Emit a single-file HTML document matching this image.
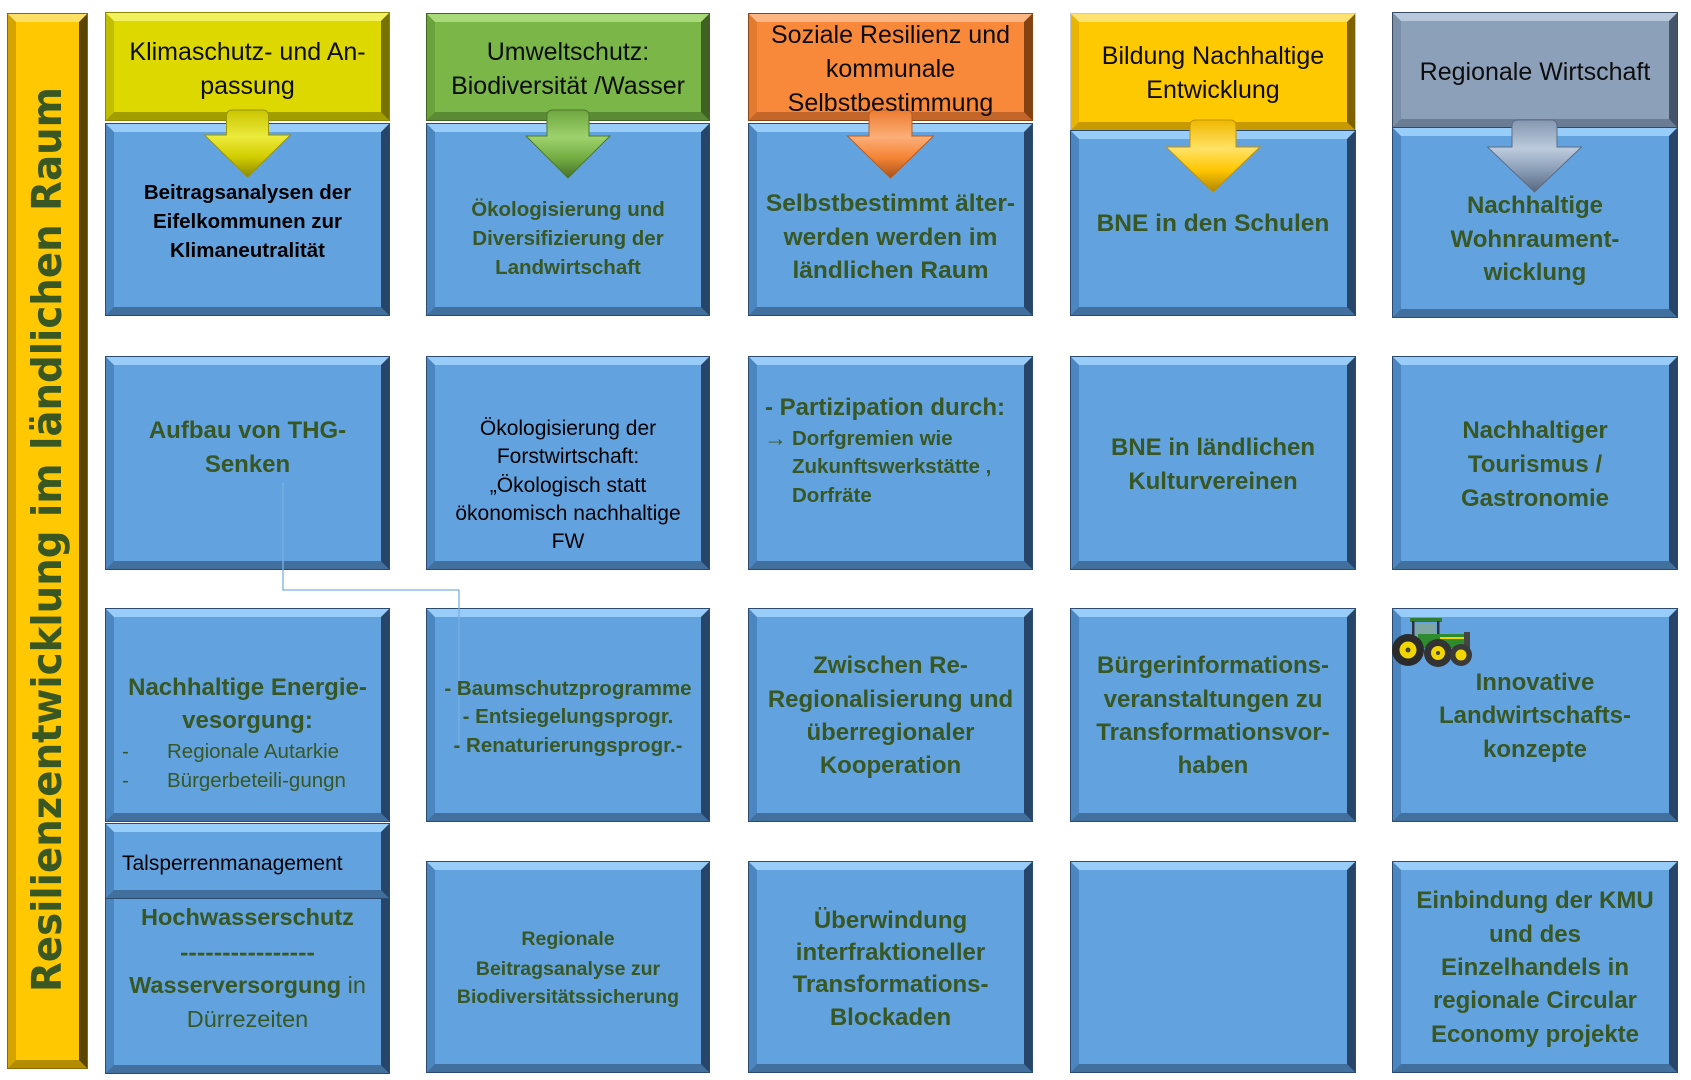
<!DOCTYPE html>
<html lang="de">
<head>
<meta charset="utf-8">
<style>
  html,body{margin:0;padding:0;background:#fff;}
  body{width:1691px;height:1080px;position:relative;overflow:hidden;}
  .b{position:absolute;box-sizing:border-box;border:8px solid;box-shadow:0 0 0 1px #2b4b70;}
  .blue{background:#62a3df;border-color:#97cdf8 #274469 #41709e #4b86c1;}
  .h1{background:#dcd800;border-color:#f2f05c #767100 #a29e00 #c2be00;box-shadow:0 0 0 1px #8a8600;}
  .h2{background:#7ab648;border-color:#a8da7a #3f6123 #5a8a33 #6aa23c;box-shadow:0 0 0 1px #3f6424;}
  .h3{background:#f8883a;border-color:#fcb684 #844213 #c4652a #e27a30;box-shadow:0 0 0 1px #8a4515;}
  .h4{background:#ffc900;border-color:#ffe270 #7f6200 #c99a00 #e9b500;box-shadow:0 0 0 1px #c8c8c8;}
  .h5{background:#8da0b9;border-color:#b8c8dc #45546b #6b7d95 #7b8ea7;box-shadow:0 0 0 1px #3a4a62;}
  .bar{background:#ffc800;border-color:#ffe066 #5a4500 #b38c00 #d6a400;box-shadow:0 0 0 1px #8a6a00;}
</style>
</head>
<body>
<!-- left title bar -->
<div class="b bar" style="left:8px;top:14px;width:79px;height:1054px;"></div>

<!-- headers -->
<div class="b h1" style="left:106px;top:13px;width:283px;height:107px;"></div>
<div class="b h2" style="left:427px;top:14px;width:282px;height:106px;"></div>
<div class="b h3" style="left:749px;top:14px;width:283px;height:106px;"></div>
<div class="b h4" style="left:1071px;top:14px;width:284px;height:116px;"></div>
<div class="b h5" style="left:1393px;top:13px;width:284px;height:114px;"></div>

<!-- row 1 -->
<div class="b blue" style="left:106px;top:124px;width:283px;height:191px;"></div>
<div class="b blue" style="left:427px;top:124px;width:282px;height:191px;"></div>
<div class="b blue" style="left:749px;top:124px;width:283px;height:191px;"></div>
<div class="b blue" style="left:1071px;top:131px;width:284px;height:184px;"></div>
<div class="b blue" style="left:1393px;top:128px;width:284px;height:189px;"></div>

<!-- row 2 -->
<div class="b blue" style="left:106px;top:357px;width:283px;height:212px;"></div>
<div class="b blue" style="left:427px;top:357px;width:282px;height:212px;"></div>
<div class="b blue" style="left:749px;top:357px;width:283px;height:212px;"></div>
<div class="b blue" style="left:1071px;top:357px;width:284px;height:212px;"></div>
<div class="b blue" style="left:1393px;top:357px;width:284px;height:212px;"></div>

<!-- row 3 -->
<div class="b blue" style="left:106px;top:609px;width:283px;height:212px;"></div>
<div class="b blue" style="left:427px;top:609px;width:282px;height:212px;"></div>
<div class="b blue" style="left:749px;top:609px;width:283px;height:212px;"></div>
<div class="b blue" style="left:1071px;top:609px;width:284px;height:212px;"></div>
<div class="b blue" style="left:1393px;top:609px;width:284px;height:212px;"></div>

<!-- row 4 -->
<div class="b blue" style="left:106px;top:824px;width:283px;height:249px;"></div>
<div class="b blue" style="left:106px;top:824px;width:283px;height:74px;"></div>
<div class="b blue" style="left:427px;top:862px;width:282px;height:210px;"></div>
<div class="b blue" style="left:749px;top:862px;width:283px;height:210px;"></div>
<div class="b blue" style="left:1071px;top:862px;width:284px;height:210px;"></div>
<div class="b blue" style="left:1393px;top:862px;width:284px;height:210px;"></div>

<svg width="1691" height="1080" viewBox="0 0 1691 1080" style="position:absolute;left:0;top:0;">
  <defs>
    <linearGradient id="a1" x1="0" y1="0" x2="0" y2="1">
      <stop offset="0" stop-color="#c9c500"/><stop offset="0.4" stop-color="#ecea3c"/><stop offset="0.7" stop-color="#d2ce00"/><stop offset="1" stop-color="#8c8800"/>
    </linearGradient>
    <linearGradient id="a2" x1="0" y1="0" x2="0" y2="1">
      <stop offset="0" stop-color="#6ea63f"/><stop offset="0.4" stop-color="#9ed26c"/><stop offset="0.7" stop-color="#74ae43"/><stop offset="1" stop-color="#46702a"/>
    </linearGradient>
    <linearGradient id="a3" x1="0" y1="0" x2="0" y2="1">
      <stop offset="0" stop-color="#ec7c30"/><stop offset="0.4" stop-color="#fcae78"/><stop offset="0.7" stop-color="#f48434"/><stop offset="1" stop-color="#a8531d"/>
    </linearGradient>
    <linearGradient id="a4" x1="0" y1="0" x2="0" y2="1">
      <stop offset="0" stop-color="#f0b800"/><stop offset="0.4" stop-color="#ffe266"/><stop offset="0.7" stop-color="#ffc600"/><stop offset="1" stop-color="#b08600"/>
    </linearGradient>
    <linearGradient id="a5" x1="0" y1="0" x2="0" y2="1">
      <stop offset="0" stop-color="#8597b0"/><stop offset="0.4" stop-color="#bccbdd"/><stop offset="0.7" stop-color="#8a9db6"/><stop offset="1" stop-color="#56667e"/>
    </linearGradient>
  </defs>

  <!-- arrows -->
  <path d="M226.5,116 Q226.5,110 232.5,110 L262.5,110 Q268.5,110 268.5,116 L268.5,135 L290.5,135 L247.5,177 L204.5,135 L226.5,135 Z" fill="url(#a1)" stroke="#9a9600" stroke-width="1"/>
  <path d="M547,116 Q547,110 553,110 L583,110 Q589,110 589,116 L589,136 L610,136 L568,178 L526,136 L547,136 Z" fill="url(#a2)" stroke="#4d7a2e" stroke-width="1"/>
  <path d="M869,116 Q869,110 875,110 L906,110 Q912,110 912,116 L912,136 L933.5,136 L890.5,178 L847.5,136 L869,136 Z" fill="url(#a3)" stroke="#b85c20" stroke-width="1"/>
  <path d="M1190,126 Q1190,120 1196,120 L1230,120 Q1236,120 1236,126 L1236,147 L1260,147 L1213,192 L1166,147 L1190,147 Z" fill="url(#a4)" stroke="#c09200" stroke-width="1"/>
  <path d="M1512,126 Q1512,120 1518,120 L1551,120 Q1557,120 1557,126 L1557,147 L1581.5,147 L1534.5,192 L1487.5,147 L1512,147 Z" fill="url(#a5)" stroke="#5d6d85" stroke-width="1"/>

  <!-- connector -->
  <polyline points="283,483 283,590 459,590 459,745" fill="none" stroke="#7ab0e2" stroke-width="1.3"/>

  <!-- tractor -->
  <g>
    <rect x="1410" y="618" width="32" height="4" fill="#2f7d2f"/>
    <rect x="1412" y="621" width="2.5" height="22" fill="#333"/>
    <rect x="1437" y="621" width="2.5" height="22" fill="#333"/>
    <rect x="1415" y="623" width="21" height="15" fill="#8aa88a" opacity="0.7"/>
    <rect x="1418" y="634" width="50" height="14" fill="#2e8b2e"/>
    <rect x="1440" y="637" width="24" height="2" fill="#e8d800"/>
    <rect x="1464" y="632" width="6" height="18" fill="#444"/>
    <circle cx="1408" cy="650" r="16" fill="#2b2b2b"/>
    <circle cx="1408" cy="650" r="8.5" fill="#f2d600"/>
    <circle cx="1408" cy="650" r="2.5" fill="#444"/>
    <circle cx="1438" cy="653" r="14" fill="#333"/>
    <circle cx="1438" cy="653" r="7" fill="#f2d600"/>
    <circle cx="1438" cy="653" r="2" fill="#444"/>
    <circle cx="1461" cy="655" r="11" fill="#3a3a3a"/>
    <circle cx="1461" cy="655" r="5.5" fill="#f2d600"/>
  </g>

  <!-- vertical title -->
  <text transform="translate(61 992) rotate(-90)" font-family="'DejaVu Sans', 'Liberation Sans', sans-serif" font-weight="bold" font-size="41" fill="#385723" textLength="905" lengthAdjust="spacingAndGlyphs">Resilienzentwicklung im ländlichen Raum</text>

  <!-- header texts -->
  <g font-family="'Liberation Sans', sans-serif" font-size="25" fill="#0d0d0d" text-anchor="middle">
    <text x="247.5" y="60">Klimaschutz- und An-</text>
    <text x="247.5" y="94">passung</text>
    <text x="568" y="60">Umweltschutz:</text>
    <text x="568" y="94">Biodiversität /Wasser</text>
    <text x="890.5" y="43">Soziale Resilienz und</text>
    <text x="890.5" y="77">kommunale</text>
    <text x="890.5" y="111">Selbstbestimmung</text>
    <text x="1213" y="64">Bildung Nachhaltige</text>
    <text x="1213" y="98">Entwicklung</text>
    <text x="1535" y="80">Regionale Wirtschaft</text>
  </g>

  <!-- row 1 -->
  <g font-family="'Liberation Sans', sans-serif" font-weight="bold" text-anchor="middle">
    <g font-size="20.5" fill="#000">
      <text x="247.5" y="199">Beitragsanalysen der</text>
      <text x="247.5" y="228">Eifelkommunen zur</text>
      <text x="247.5" y="257">Klimaneutralität</text>
    </g>
    <g font-size="20.5" fill="#385723">
      <text x="568" y="216">Ökologisierung und</text>
      <text x="568" y="245">Diversifizierung der</text>
      <text x="568" y="274">Landwirtschaft</text>
    </g>
    <g font-size="24.5" fill="#385723">
      <text x="890.5" y="211">Selbstbestimmt älter-</text>
      <text x="890.5" y="245">werden werden im</text>
      <text x="890.5" y="278">ländlichen Raum</text>
      <text x="1213" y="231">BNE in den Schulen</text>
    </g>
    <g font-size="24" fill="#385723">
      <text x="1535" y="213">Nachhaltige</text>
      <text x="1535" y="247">Wohnraument-</text>
      <text x="1535" y="280">wicklung</text>
    </g>
  </g>

  <!-- row 2 -->
  <g font-family="'Liberation Sans', sans-serif">
    <g font-weight="bold" font-size="24" fill="#385723" text-anchor="middle">
      <text x="247.5" y="438">Aufbau von THG-</text>
      <text x="247.5" y="472">Senken</text>
      <text x="1213" y="455">BNE in ländlichen</text>
      <text x="1213" y="489">Kulturvereinen</text>
      <text x="1535" y="438">Nachhaltiger</text>
      <text x="1535" y="472">Tourismus /</text>
      <text x="1535" y="506">Gastronomie</text>
    </g>
    <g font-size="21" fill="#000" text-anchor="middle">
      <text x="568" y="435">Ökologisierung der</text>
      <text x="568" y="463">Forstwirtschaft:</text>
      <text x="568" y="492">„Ökologisch statt</text>
      <text x="568" y="520">ökonomisch nachhaltige</text>
      <text x="568" y="548">FW</text>
    </g>
    <g fill="#385723">
      <text x="765" y="415" font-size="24" font-weight="bold">- Partizipation durch:</text>
      <text x="764" y="446" font-size="23">→</text>
      <text x="792" y="445" font-size="20.5" font-weight="bold">Dorfgremien wie</text>
      <text x="792" y="473" font-size="20.5" font-weight="bold">Zukunftswerkstätte ,</text>
      <text x="792" y="502" font-size="20.5" font-weight="bold">Dorfräte</text>
    </g>
  </g>

  <!-- row 3 -->
  <g font-family="'Liberation Sans', sans-serif" fill="#385723">
    <g font-weight="bold" font-size="24" text-anchor="middle">
      <text x="247.5" y="695">Nachhaltige Energie-</text>
      <text x="247.5" y="728">vesorgung:</text>
      <text x="890.5" y="673">Zwischen Re-</text>
      <text x="890.5" y="707">Regionalisierung und</text>
      <text x="890.5" y="740">überregionaler</text>
      <text x="890.5" y="773">Kooperation</text>
      <text x="1213" y="673">Bürgerinformations-</text>
      <text x="1213" y="707">veranstaltungen zu</text>
      <text x="1213" y="740">Transformationsvor-</text>
      <text x="1213" y="773">haben</text>
      <text x="1535" y="690">Innovative</text>
      <text x="1535" y="723">Landwirtschafts-</text>
      <text x="1535" y="757">konzepte</text>
    </g>
    <g font-size="20.5">
      <text x="122" y="758">-</text>
      <text x="167" y="758">Regionale Autarkie</text>
      <text x="122" y="787">-</text>
      <text x="167" y="787">Bürgerbeteili-gungn</text>
    </g>
    <g font-weight="bold" font-size="20.5" text-anchor="middle">
      <text x="568" y="695">- Baumschutzprogramme</text>
      <text x="568" y="723">- Entsiegelungsprogr.</text>
      <text x="568" y="752">- Renaturierungsprogr.-</text>
    </g>
  </g>

  <!-- row 4 -->
  <g font-family="'Liberation Sans', sans-serif">
    <text x="122" y="870" font-size="21" fill="#000">Talsperrenmanagement</text>
    <g fill="#385723" text-anchor="middle">
      <text x="247.5" y="925" font-size="23.5" font-weight="bold">Hochwasserschutz</text>
      <text x="247.5" y="960" font-size="23.5" font-weight="bold" textLength="135" lengthAdjust="spacingAndGlyphs">----------------</text>
      <text x="247.5" y="993" font-size="23.5"><tspan font-weight="bold">Wasserversorgung</tspan> in</text>
      <text x="247.5" y="1027" font-size="23.5">Dürrezeiten</text>
    </g>
    <g fill="#385723" font-weight="bold" text-anchor="middle">
      <g font-size="19.5">
        <text x="568" y="945">Regionale</text>
        <text x="568" y="975">Beitragsanalyse zur</text>
        <text x="568" y="1003">Biodiversitätssicherung</text>
      </g>
      <g font-size="24">
        <text x="890.5" y="928">Überwindung</text>
        <text x="890.5" y="960">interfraktioneller</text>
        <text x="890.5" y="992">Transformations-</text>
        <text x="890.5" y="1025">Blockaden</text>
        <text x="1535" y="908">Einbindung der KMU</text>
        <text x="1535" y="942">und des</text>
        <text x="1535" y="975">Einzelhandels in</text>
        <text x="1535" y="1008">regionale  Circular</text>
        <text x="1535" y="1042">Economy projekte</text>
      </g>
    </g>
  </g>
</svg>
</body>
</html>
